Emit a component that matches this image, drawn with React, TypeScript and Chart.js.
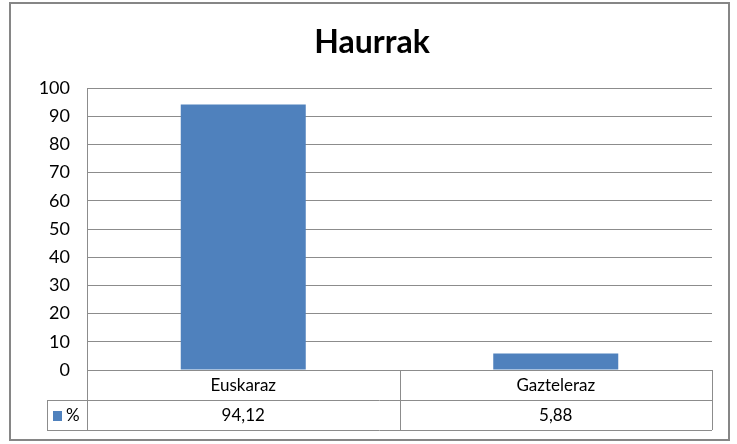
import { useEffect, useRef } from 'react';
import { Chart, registerables } from 'chart.js';

Chart.register(...registerables);

const TITLE = 'Haurrak';
const categories = ['Euskaraz', 'Gazteleraz'];
const seriesName = '%';
const values = [94.12, 5.88];
const yMin = 0;
const yMax = 100;
const yStep = 10;

const FONT = 'Lato, "Open Sans", sans-serif';
const BAR_COLOR = '#4F81BD';
const LINE_COLOR = '#8c8c8c';

function fmt(v: number) {
  return v.toFixed(2).replace('.', ',');
}

export default function App() {
  const ref = useRef<HTMLCanvasElement>(null);

  useEffect(() => {
    document.body.style.margin = '0';
    const canvas = ref.current;
    if (!canvas) return;

    const decorPlugin = {
      id: 'decor',
      beforeDraw(chart: any) {
        const ctx = chart.ctx;
        ctx.save();
        ctx.fillStyle = '#ffffff';
        ctx.fillRect(0, 0, chart.width, chart.height);
        ctx.restore();
      },
      afterDraw(chart: any) {
        const ctx = chart.ctx;
        const { left, right, bottom } = chart.chartArea;
        const xs = chart.scales.x;
        const rowH = 30;
        const keyLeft = 47;
        const n = categories.length;
        const catW = (right - left) / n;
        ctx.save();

        // outer border
        ctx.strokeStyle = '#868686';
        ctx.lineWidth = 2;
        ctx.strokeRect(10, 3, 719, 437);

        // title
        ctx.fillStyle = '#000000';
        ctx.font = `bold 32px ${FONT}`;
        ctx.textAlign = 'center';
        ctx.textBaseline = 'middle';
        ctx.fillText(TITLE, 372, 43);

        // table lines
        ctx.strokeStyle = LINE_COLOR;
        ctx.lineWidth = 1;
        const hline = (x1: number, x2: number, y: number) => {
          ctx.beginPath();
          ctx.moveTo(x1, Math.round(y) + 0.5);
          ctx.lineTo(x2, Math.round(y) + 0.5);
          ctx.stroke();
        };
        const vline = (x: number, y1: number, y2: number) => {
          ctx.beginPath();
          ctx.moveTo(Math.round(x) + 0.5, y1);
          ctx.lineTo(Math.round(x) + 0.5, y2);
          ctx.stroke();
        };
        hline(keyLeft, right, bottom + rowH);
        hline(keyLeft, right, bottom + 2 * rowH);
        vline(keyLeft, bottom + rowH, bottom + 2 * rowH);
        for (let i = 0; i <= n; i++) {
          vline(left + i * catW, bottom, bottom + 2 * rowH);
        }

        // texts
        ctx.fillStyle = '#000000';
        ctx.font = `17px ${FONT}`;
        ctx.textAlign = 'center';
        ctx.textBaseline = 'middle';
        categories.forEach((c, i) => {
          const cx = xs.getPixelForValue(i);
          ctx.fillText(c, cx, bottom + rowH / 2 + 1);
          ctx.fillText(fmt(values[i]), cx, bottom + rowH * 1.5 + 1);
        });
        // legend key
        ctx.fillStyle = BAR_COLOR;
        ctx.fillRect(53, bottom + rowH * 1.5 - 4, 9, 10);
        ctx.fillStyle = '#000000';
        ctx.textAlign = 'left';
        ctx.fillText(seriesName, 66, bottom + rowH * 1.5 + 1);

        ctx.restore();
      },
    };

    const chart = new Chart(canvas, {
      type: 'bar',
      data: {
        labels: categories,
        datasets: [
          {
            label: seriesName,
            data: values,
            backgroundColor: BAR_COLOR,
            borderWidth: 0,
            barPercentage: 0.4,
            categoryPercentage: 1,
          },
        ],
      },
      options: {
        responsive: false,
        animation: false,
        devicePixelRatio: 1,
        layout: { padding: { left: 0, top: 88, right: 25, bottom: 74 } },
        plugins: {
          legend: { display: false },
          title: { display: false },
          tooltip: { enabled: false },
        },
        scales: {
          x: {
            type: 'category',
            display: false,
            offset: true,
            grid: { display: false },
          },
          y: {
            min: yMin,
            max: yMax,
            ticks: {
              stepSize: yStep,
              padding: 17,
              color: '#000000',
              font: { family: FONT, size: 18 },
            },
            grid: {
              color: LINE_COLOR,
              drawTicks: false,
              lineWidth: 1,
            },
            border: { display: true, color: LINE_COLOR },
            afterFit(scale: any) {
              scale.width = 87;
            },
          },
        },
      },
      plugins: [decorPlugin],
    } as any);

    return () => chart.destroy();
  }, []);

  return <canvas ref={ref} width={737} height={444} style={{ display: 'block' }} />;
}
